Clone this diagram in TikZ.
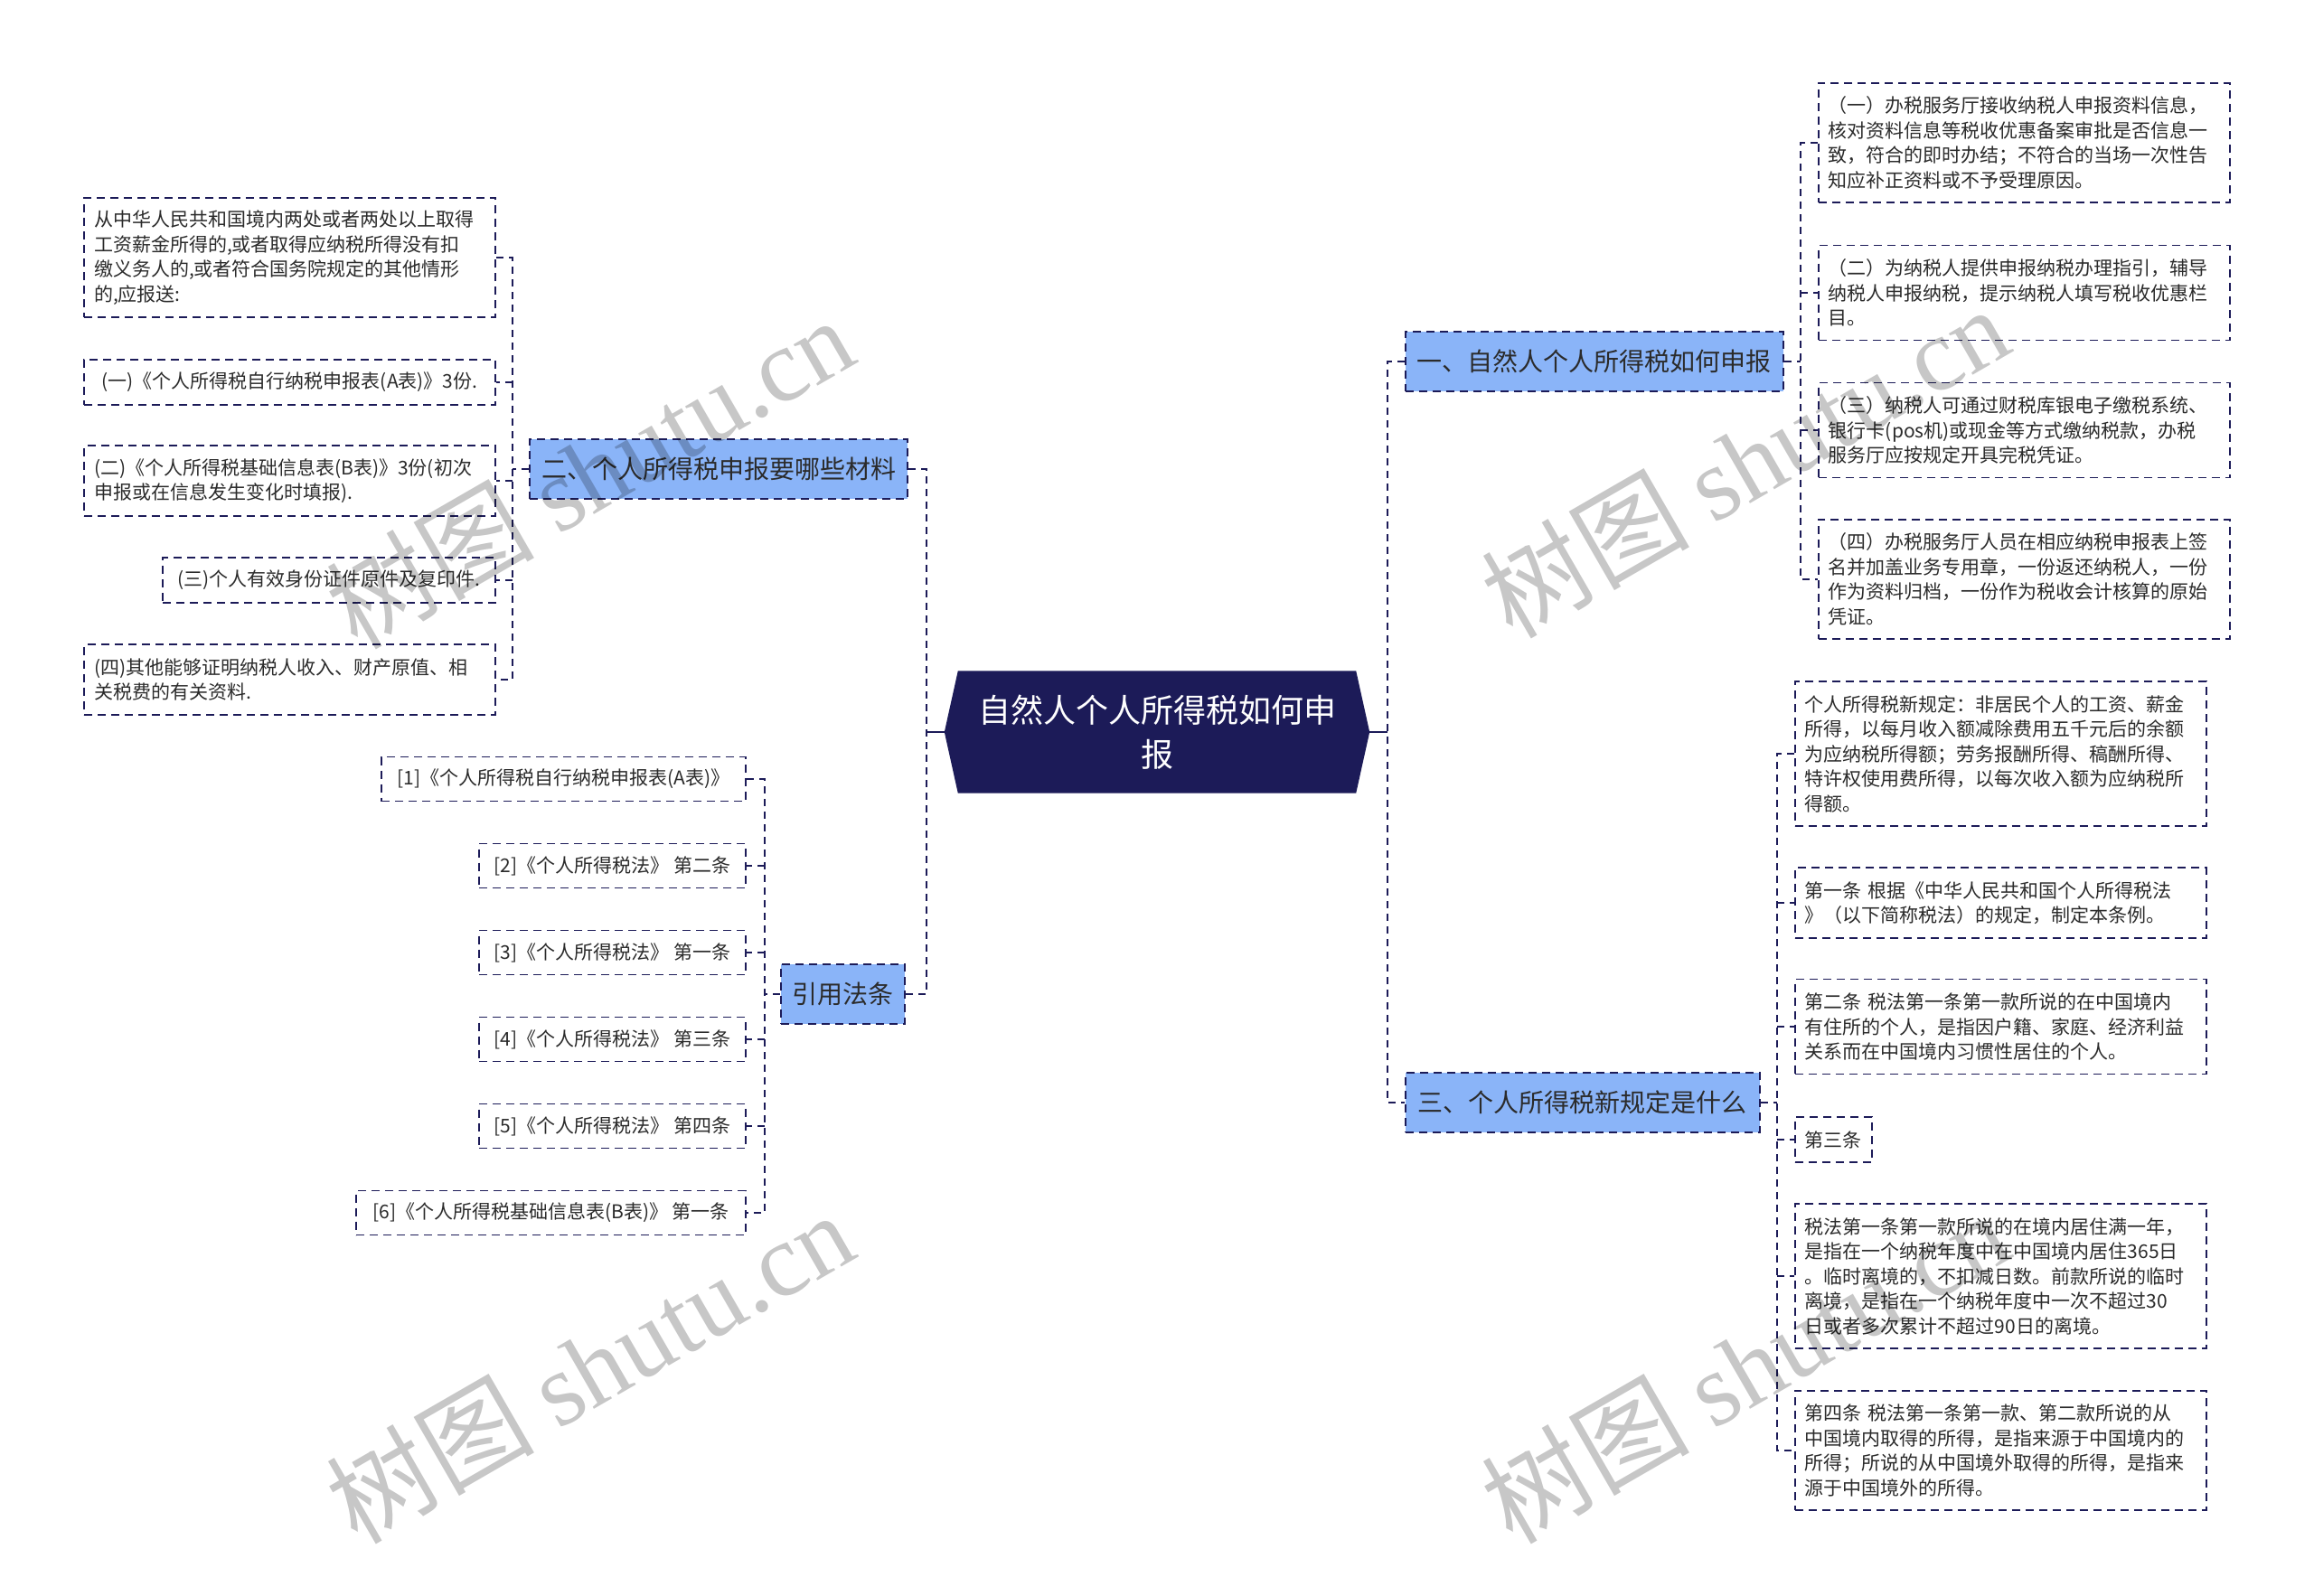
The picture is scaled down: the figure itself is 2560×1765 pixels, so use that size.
\documentclass[tikz,border=0pt]{standalone}
\usepackage{fontspec}
\setmainfont{Noto Sans CJK SC}
\newfontfamily\wmserif{Liberation Serif}
\newfontfamily\wmcjk{Noto Sans CJK SC}
\usetikzlibrary{calc,backgrounds}
\definecolor{navy}{HTML}{1C1B58}
\definecolor{bluefill}{HTML}{8AB4F8}
\definecolor{txt}{HTML}{2B2B2B}
\tikzset{
 conn/.style={draw=navy, line width=2pt, dash pattern=on 8pt off 6pt},
 solidconn/.style={draw=navy, line width=2pt},
 leaf/.style={draw=navy, line width=1.8pt, dash pattern=on 9pt off 6pt, fill=white, text=txt,
   font=\fontsize{21}{27.5}\selectfont, inner xsep=11pt, inner ysep=4pt, align=left},
 wideleaf/.style={leaf, text width=433pt},
 l1/.style={minimum height=50pt},
 l2/.style={minimum height=77.5pt},
 l3/.style={minimum height=105pt},
 l4/.style={minimum height=132.5pt},
 l5/.style={minimum height=160pt},
 branch/.style={draw=navy, line width=1.8pt, dash pattern=on 9pt off 6pt, fill=bluefill, text=txt,
   font=\fontsize{28}{34}\selectfont, inner xsep=6pt, inner ysep=4pt, minimum height=66pt},
 rootnode/.style={text=white, font=\fontsize{36}{49}\selectfont, align=center,
   minimum width=440pt, minimum height=135pt, inner sep=0pt},
 wm/.style={text=black, opacity=0.22, rotate=30, font=\fontsize{115}{115}\selectfont}
}
\begin{document}
\begin{tikzpicture}[x=1pt,y=-1pt]
\useasboundingbox (0,0) rectangle (2560,1765);
% root
\node[rootnode] (root) at (1280,810) {自然人个人所得税如何申\\报};
\coordinate (rootL) at ($(root.west)+(-15,0)$);
\coordinate (rootR) at ($(root.east)+(15,0)$);
\begin{scope}[on background layer]
\fill[white] (0,0) rectangle (2560,1765);
\fill[navy] (root.north west) -- (root.north east) -- (rootR) -- (root.south east) -- (root.south west) -- (rootL) -- cycle;
\end{scope}
% branches
\node[branch, minimum width=418pt, anchor=west] (b1) at (1554,400) {一、自然人个人所得税如何申报};
\node[branch, minimum width=392pt, anchor=west] (b3) at (1554,1220) {三、个人所得税新规定是什么};
\node[branch, minimum width=418pt, anchor=east] (b2) at (1005,519) {二、个人所得税申报要哪些材料};
\node[branch, minimum width=137pt, anchor=east] (b4) at (1002,1100) {引用法条};
% right branch 1 children
\node[wideleaf, l4, anchor=west] (c11) at (2011,158) {（一）办税服务厅接收纳税人申报资料信息，\\核对资料信息等税收优惠备案审批是否信息一\\致，符合的即时办结；不符合的当场一次性告\\知应补正资料或不予受理原因。};
\node[wideleaf, l3, anchor=west] (c12) at (2011,324) {（二）为纳税人提供申报纳税办理指引，辅导\\纳税人申报纳税，提示纳税人填写税收优惠栏\\目。};
\node[wideleaf, l3, anchor=west] (c13) at (2011,476) {（三）纳税人可通过财税库银电子缴税系统、\\银行卡(pos机)或现金等方式缴纳税款，办税\\服务厅应按规定开具完税凭证。};
\node[wideleaf, l4, anchor=west] (c14) at (2011,641) {（四）办税服务厅人员在相应纳税申报表上签\\名并加盖业务专用章，一份返还纳税人，一份\\作为资料归档，一份作为税收会计核算的原始\\凭证。};
% right branch 3 children
\node[wideleaf, l5, anchor=west] (c31) at (1985,834) {个人所得税新规定：非居民个人的工资、薪金\\所得，以每月收入额减除费用五千元后的余额\\为应纳税所得额；劳务报酬所得、稿酬所得、\\特许权使用费所得，以每次收入额为应纳税所\\得额。};
\node[wideleaf, l2, anchor=west] (c32) at (1985,999) {第一条 根据《中华人民共和国个人所得税法\\》（以下简称税法）的规定，制定本条例。};
\node[wideleaf, l3, anchor=west] (c33) at (1985,1136) {第二条 税法第一条第一款所说的在中国境内\\有住所的个人，是指因户籍、家庭、经济利益\\关系而在中国境内习惯性居住的个人。};
\node[leaf, l1, minimum width=85pt, anchor=west] (c34) at (1985,1261) {第三条};
\node[wideleaf, l5, anchor=west] (c35) at (1985,1412) {税法第一条第一款所说的在境内居住满一年，\\是指在一个纳税年度中在中国境内居住365日\\。临时离境的，不扣减日数。前款所说的临时\\离境，是指在一个纳税年度中一次不超过30\\日或者多次累计不超过90日的离境。};
\node[wideleaf, l4, anchor=west] (c36) at (1985,1605) {第四条 税法第一条第一款、第二款所说的从\\中国境内取得的所得，是指来源于中国境内的\\所得；所说的从中国境外取得的所得，是指来\\源于中国境外的所得。};
% left branch 2 children
\node[wideleaf, l4, anchor=east] (c21) at (549,285) {从中华人民共和国境内两处或者两处以上取得\\工资薪金所得的,或者取得应纳税所得没有扣\\缴义务人的,或者符合国务院规定的其他情形\\的,应报送:};
\node[leaf, l1, minimum width=455pt, anchor=east] (c22) at (549,423) {(一)《个人所得税自行纳税申报表(A表)》3份.};
\node[wideleaf, l2, anchor=east] (c23) at (549,532) {(二)《个人所得税基础信息表(B表)》3份(初次\\申报或在信息发生变化时填报).};
\node[leaf, l1, minimum width=368pt, anchor=east] (c24) at (549,642) {(三)个人有效身份证件原件及复印件.};
\node[wideleaf, l2, anchor=east] (c25) at (549,752) {(四)其他能够证明纳税人收入、财产原值、相\\关税费的有关资料.};
% left branch 4 children
\node[leaf, minimum height=49pt, minimum width=403pt, anchor=east] (r1) at (826,862) {[1]《个人所得税自行纳税申报表(A表)》};
\node[leaf, minimum height=49pt, minimum width=295pt, anchor=east] (r2) at (826,958) {[2]《个人所得税法》 第二条};
\node[leaf, minimum height=49pt, minimum width=295pt, anchor=east] (r3) at (826,1054) {[3]《个人所得税法》 第一条};
\node[leaf, minimum height=49pt, minimum width=295pt, anchor=east] (r4) at (826,1150) {[4]《个人所得税法》 第三条};
\node[leaf, minimum height=49pt, minimum width=295pt, anchor=east] (r5) at (826,1246) {[5]《个人所得税法》 第四条};
\node[leaf, minimum height=49pt, minimum width=431pt, anchor=east] (r6) at (826,1342) {[6]《个人所得税基础信息表(B表)》 第一条};
% trunk connectors
\coordinate (lj) at (1025,810);
\coordinate (rj) at (1535,810);
\draw[solidconn] (rootL) -- (lj);
\draw[solidconn] (rootR) -- (rj);
\draw[conn] (b2.east) -- (b2.east -| lj) -- (b4.east -| lj) -- (b4.east);
\draw[conn] (b1.west) -- (b1.west -| rj) -- (b3.west -| rj) -- (b3.west);
% branch 1
\coordinate (t1) at (1992,400);
\draw[conn] (b1.east) -- (t1);
\draw[conn] (c11.west) -- (c11.west -| t1) -- (c14.west -| t1) -- (c14.west);
\foreach \n in {c12,c13} \draw[conn] (\n.west -| t1) -- (\n.west);
% branch 3
\coordinate (t3) at (1966,1220);
\draw[conn] (b3.east) -- (t3);
\draw[conn] (c31.west) -- (c31.west -| t3) -- (c36.west -| t3) -- (c36.west);
\foreach \n in {c32,c33,c34,c35} \draw[conn] (\n.west -| t3) -- (\n.west);
% branch 2
\coordinate (t2) at (567,519);
\draw[conn] (b2.west) -- (t2);
\draw[conn] (c21.east) -- (c21.east -| t2) -- (c25.east -| t2) -- (c25.east);
\foreach \n in {c22,c23,c24} \draw[conn] (\n.east -| t2) -- (\n.east);
% branch 4
\coordinate (t4) at (846,1100);
\draw[conn] (b4.west) -- (t4);
\draw[conn] (r1.east) -- (r1.east -| t4) -- (r6.east -| t4) -- (r6.east);
\foreach \n in {r2,r3,r4,r5} \draw[conn] (\n.east -| t4) -- (\n.east);
% watermarks
\node[wm] (wm1) at (652,522) {{\wmcjk 树图} {\wmserif shutu.cn}};
\node[wm] (wm2) at (1930,510) {{\wmcjk 树图} {\wmserif shutu.cn}};
\node[wm] (wm3) at (652,1512) {{\wmcjk 树图} {\wmserif shutu.cn}};
\node[wm] (wm4) at (1930,1512) {{\wmcjk 树图} {\wmserif shutu.cn}};
\end{tikzpicture}
\end{document}
